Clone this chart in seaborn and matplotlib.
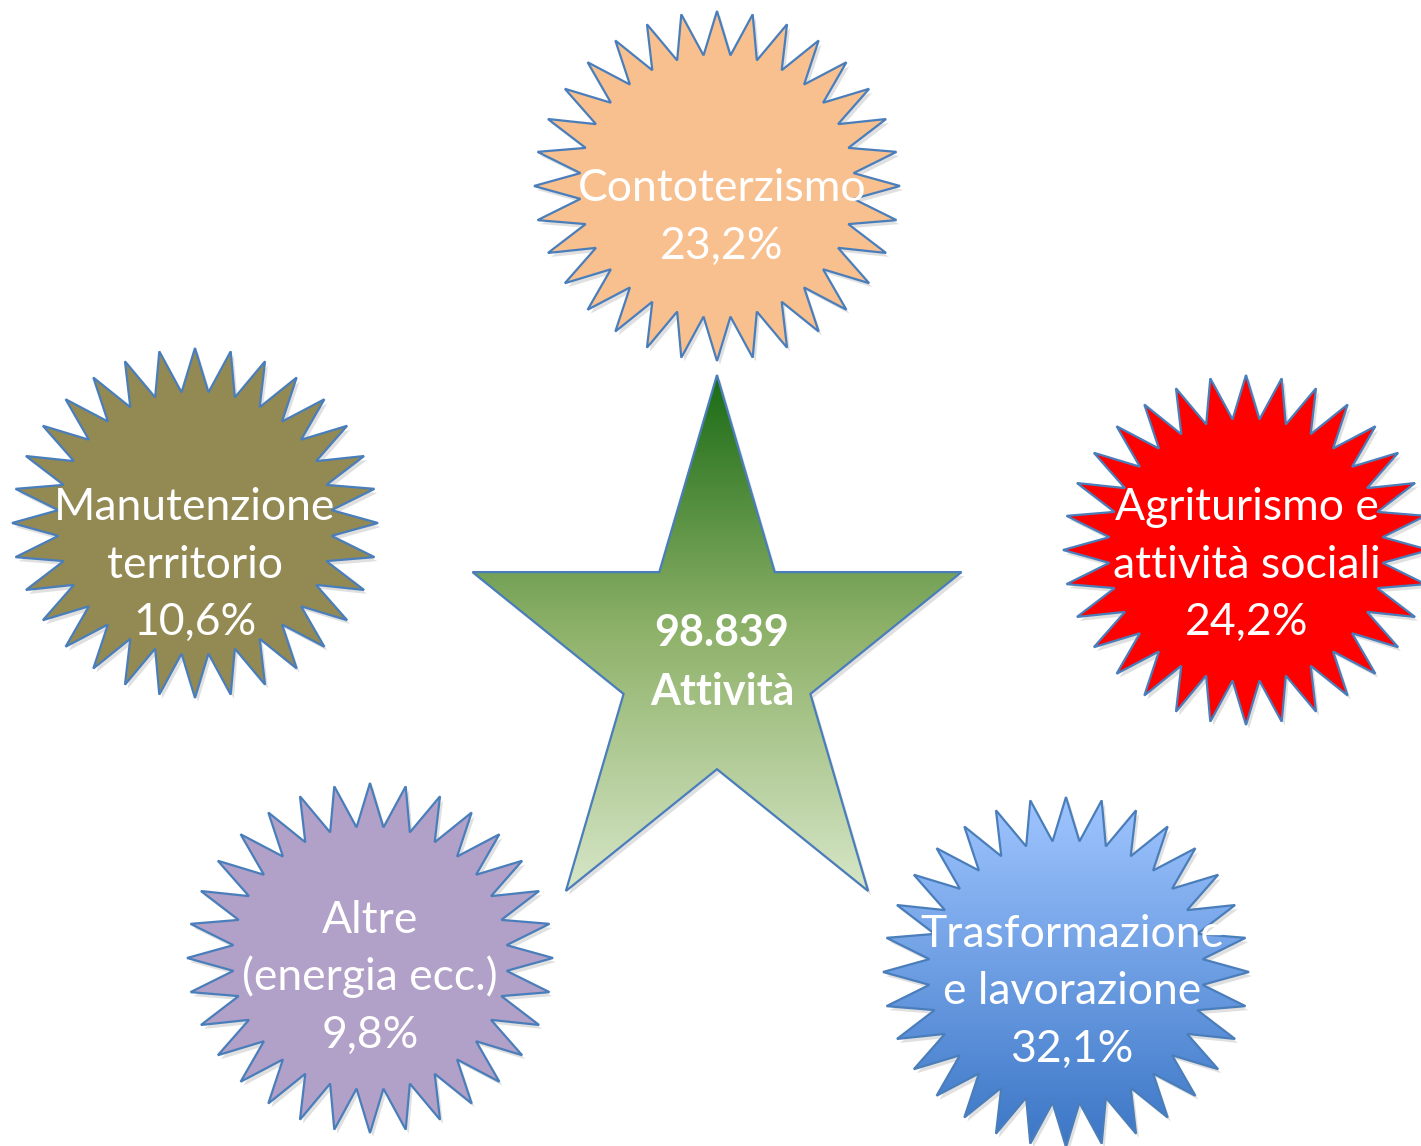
import os
import numpy as np
import matplotlib
matplotlib.use("Agg")
import matplotlib.pyplot as plt
from matplotlib.patches import Polygon
from matplotlib.colors import LinearSegmentedColormap
from matplotlib import font_manager as fm
import seaborn as sns

# ---------------- data ----------------
categories = ["Contoterzismo",
              "Manutenzione\nterritorio",
              "Agriturismo e\nattività sociali",
              "Altre\n(energia ecc.)",
              "Trasformazione\ne lavorazione"]
shares = [23.2, 10.6, 24.2, 9.8, 32.1]
total_activities = 98839
center_word = "Attività"

# ---------------- style / layout ----------------
sns.set_theme(style="white")
plt.rcParams["font.family"] = ["Lato", "DejaVu Sans"]


def lato(style_name, weight, size):
    for f in fm.findSystemFonts():
        if os.path.basename(f).lower() == f"lato-{style_name}.ttf":
            return fm.FontProperties(fname=f, size=size)
    return fm.FontProperties(family=["Lato", "DejaVu Sans"], weight=weight, size=size)


fp_reg = lato("regular", "normal", 32)
fp_bold = lato("bold", "bold", 31)

W, H = 1421, 1146
fig = plt.figure(figsize=(W / 100, H / 100), dpi=100)
ax = fig.add_axes([0, 0, 1, 1])
ax.set_xlim(0, W)
ax.set_ylim(H, 0)
ax.axis("off")

edge = "#4a7ebb"
burst_centers = [(717, 186), (195, 523), (1246, 550), (370, 958), (1066, 972)]
burst_rx, burst_ry = 183, 175
burst_fill = ["#f8c08f", "#938953", "#ff0000", "#b1a0c7", None]
text_pos = [(722, 201), (195, 520), (1247, 520), (370, 933), (1072, 947)]
line_gap = 57.5


def burst(cx, cy, rx, ry, n=32, inner=0.75):
    k = np.arange(2 * n)
    ang = np.pi / 2 + k * np.pi / n
    r = np.where(k % 2 == 0, 1.0, inner)
    return np.column_stack([cx + rx * r * np.cos(ang), cy - ry * r * np.sin(ang)])


def star5(cx, top, bottom, left, right, inner=0.382):
    k = np.arange(10)
    ang = np.pi / 2 + k * np.pi / 5
    r = np.where(k % 2 == 0, 1.0, inner)
    Rx = (right - left) / 2 / np.cos(np.deg2rad(18))
    Ry = (bottom - top) / (1 + np.cos(np.deg2rad(36)))
    cy = top + Ry
    return np.column_stack([cx + Rx * r * np.cos(ang), cy - Ry * r * np.sin(ang)])


def shadow(pts, z):
    ax.add_patch(Polygon(pts + np.array([3, 4]), closed=True, facecolor="#000000",
                         alpha=0.12, edgecolor="none", zorder=z))


def gradient_fill(pts, c_top, c_bottom, z, mid=None):
    ymin, ymax = pts[:, 1].min(), pts[:, 1].max()
    xmin, xmax = pts[:, 0].min(), pts[:, 0].max()
    cols = [c_top, mid, c_bottom] if mid else [c_top, c_bottom]
    cmap = LinearSegmentedColormap.from_list("g", cols)
    grad = np.linspace(0, 1, 256).reshape(-1, 1)
    im = ax.imshow(grad, cmap=cmap, aspect="auto",
                   extent=[xmin, xmax, ymax, ymin], zorder=z, interpolation="bilinear")
    clip = Polygon(pts, closed=True, facecolor="none", edgecolor="none", transform=ax.transData)
    ax.add_patch(clip)
    im.set_clip_path(clip)
    ax.add_patch(Polygon(pts, closed=True, facecolor="none", edgecolor=edge, lw=1.6, zorder=z + 0.1))


# central star
star = star5(717, 375, 891, 473, 962)
shadow(star, 1)
gradient_fill(star, "#1a6b15", "#d6e6c7", 2, mid="#8fb26a")
ax.text(722, 646, f"{total_activities:,}".replace(",", "."), color="white",
        fontproperties=fp_bold, ha="center", va="baseline", zorder=5)
ax.text(722, 705, center_word, color="white",
        fontproperties=fp_bold, ha="center", va="baseline", zorder=5)

# starbursts
for (cx, cy), fc, cat, val, (tx, ty) in zip(burst_centers, burst_fill, categories, shares, text_pos):
    pts = burst(cx, cy, burst_rx, burst_ry)
    shadow(pts, 1)
    if fc is None:
        gradient_fill(pts, "#9fc5ff", "#3b76c6", 2)
    else:
        ax.add_patch(Polygon(pts, closed=True, facecolor=fc, edgecolor=edge, lw=1.6, zorder=2))
    lines = cat.split("\n") + [f"{val:.1f}%".replace(".", ",")]
    for i, ln in enumerate(lines):
        ax.text(tx, ty + i * line_gap, ln, color="white", fontproperties=fp_reg,
                ha="center", va="baseline", zorder=5)

fig.savefig("out.png", dpi=100, facecolor="white")
